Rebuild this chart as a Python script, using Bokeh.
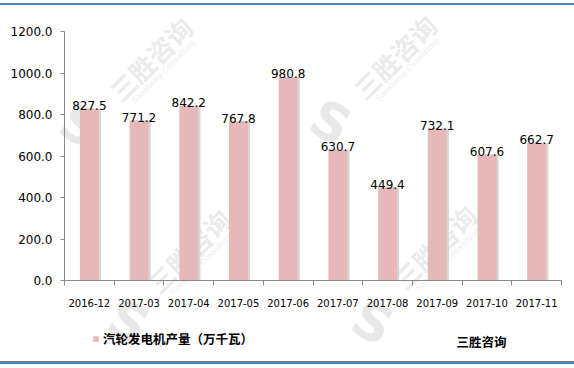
import math
from bokeh.plotting import figure
from bokeh.models import (Range1d, FixedTicker, PrintfTickFormatter, ColumnDataSource,
                          Label, Legend, LegendItem)
from bokeh.transform import dodge
from bokeh.core.properties import value
from bokeh.embed import file_html
from bokeh.resources import INLINE

# ---- data ----
months = ["2016-12", "2017-03", "2017-04", "2017-05", "2017-06",
          "2017-07", "2017-08", "2017-09", "2017-10", "2017-11"]
output = [827.5, 771.2, 842.2, 767.8, 980.8, 630.7, 449.4, 732.1, 607.6, 662.7]
y_ticks = [0, 200, 400, 600, 800, 1000, 1200]
series_name = "汽轮发电机产量（万千瓦）"
source_name = "三胜咨询"
source_name_en = "Sansheng Consulting"

pos = [i + 0.5 for i in range(len(months))]
src = ColumnDataSource(dict(x=pos, y=output, label=["%.1f" % v for v in output]))

# ---- layout (pixels) ----
W, H = 574, 368
PL, PR, PT, PB = 64, 561, 31, 280          # plot-area edges on the canvas
n = len(months)
ymax = y_ticks[-1]
ux = n / (PR - PL)                          # data units per pixel
uy = ymax / (PB - PT)
x_rng = Range1d(-PL * ux, n + (W - PR) * ux)
y_rng = Range1d(-(H - PB) * uy, ymax + PT * uy)

p = figure(width=W, height=H, output_backend="svg", toolbar_location=None,
           x_range=x_rng, y_range=y_rng,
           min_border_left=0, min_border_right=0, min_border_top=0, min_border_bottom=0)
p.outline_line_color = None
p.xgrid.visible = False
p.ygrid.visible = False
p.background_fill_alpha = 0
p.border_fill_alpha = 0
p.styles = {
    "background": "linear-gradient(to bottom, #ffffff 0px, #ffffff 3px, #4f81bd 3px, "
                  "#4f81bd 5px, #ffffff 5px, #ffffff 361px, #4f81bd 361px, #4f81bd 364px, "
                  "#ffffff 364px)"
}

# axes drawn at the data origin
ax = p.yaxis[0]
ax.fixed_location = 0
ax.bounds = (0, ymax)
ax.ticker = FixedTicker(ticks=y_ticks)
ax.formatter = PrintfTickFormatter(format="%.1f")
ax.axis_line_color = "#898989"
ax.major_tick_line_color = "#898989"
ax.major_tick_in = 0
ax.major_tick_out = 4
ax.minor_tick_line_color = None
ax.major_label_standoff = 8
ax.major_label_text_font = "DejaVu Sans"
ax.major_label_text_font_size = "12px"
ax.major_label_text_color = "#000000"

bx = p.xaxis[0]
bx.fixed_location = 0
bx.bounds = (0, n)
bx.ticker = FixedTicker(ticks=pos, minor_ticks=list(range(n + 1)))
bx.major_label_overrides = {x: m for x, m in zip(pos, months)}
bx.axis_line_color = "#898989"
bx.major_tick_line_color = None
bx.major_tick_in = 0
bx.major_tick_out = 0
bx.minor_tick_line_color = "#898989"
bx.minor_tick_in = 0
bx.minor_tick_out = 5
bx.major_label_standoff = 13
bx.major_label_text_font = "DejaVu Sans"
bx.major_label_text_font_size = "10px"
bx.major_label_text_color = "#000000"

# watermarks (faint, under the bars)
wm_col = "#a8a8a8"
for cx, cy in [(150, 58), (394, 56), (188, 250), (434, 246)]:
    p.add_layout(Label(x=cx, y=H - cy, x_units="screen", y_units="screen",
                       text=source_name, angle=math.pi / 4, text_align="center",
                       text_baseline="middle", text_font="Noto Sans CJK SC",
                       text_font_size="26px", text_font_style="bold",
                       text_color=wm_col, text_alpha=0.24, level="underlay"))
    p.add_layout(Label(x=cx + 13, y=H - cy - 13, x_units="screen", y_units="screen",
                       text=source_name_en, angle=math.pi / 4, text_align="center",
                       text_baseline="middle", text_font="DejaVu Serif",
                       text_font_size="8px", text_color=wm_col, text_alpha=0.26,
                       level="underlay"))
for cx, cy in [(80, 125), (330, 122), (128, 322), (372, 322)]:
    p.add_layout(Label(x=cx, y=H - cy, x_units="screen", y_units="screen",
                       text="S", angle=-0.5, text_align="center", text_baseline="middle",
                       text_font="DejaVu Sans", text_font_size="52px",
                       text_font_style="bold", text_color=wm_col, text_alpha=0.26,
                       level="underlay"))

# bars with soft shadow
p.vbar(x=dodge("x", 0.045, range=p.x_range), top="y", width=0.38, source=src,
       fill_color="#d6d6d6", line_color=None)
bars = p.vbar(x="x", top="y", width=0.38, source=src,
              fill_color="#e6b9b8", line_color=None)

p.text(x="x", y="y", text="label", source=src, text_align="center",
       text_baseline="middle", y_offset=-3, text_font=value("DejaVu Sans"),
       text_font_size="12px", text_color="#000000")

# legend and source note under the axis
leg = Legend(items=[LegendItem(label=series_name, renderers=[bars])],
             location=(92, H - 334 - 14), glyph_width=7, glyph_height=7,
             label_text_font="Noto Sans CJK SC", label_text_font_size="12.5px",
             label_text_font_style="bold", label_text_color="#000000",
             label_standoff=4, padding=0, margin=0,
             border_line_color=None, background_fill_alpha=0, label_height=14)
p.add_layout(leg)
p.add_layout(Label(x=456, y=H - 341, x_units="screen", y_units="screen",
                   text=source_name, text_baseline="middle", text_font="Noto Sans CJK SC",
                   text_font_size="12.5px", text_font_style="bold", text_color="#000000"))

open("out.html", "w").write(file_html(p, INLINE))
